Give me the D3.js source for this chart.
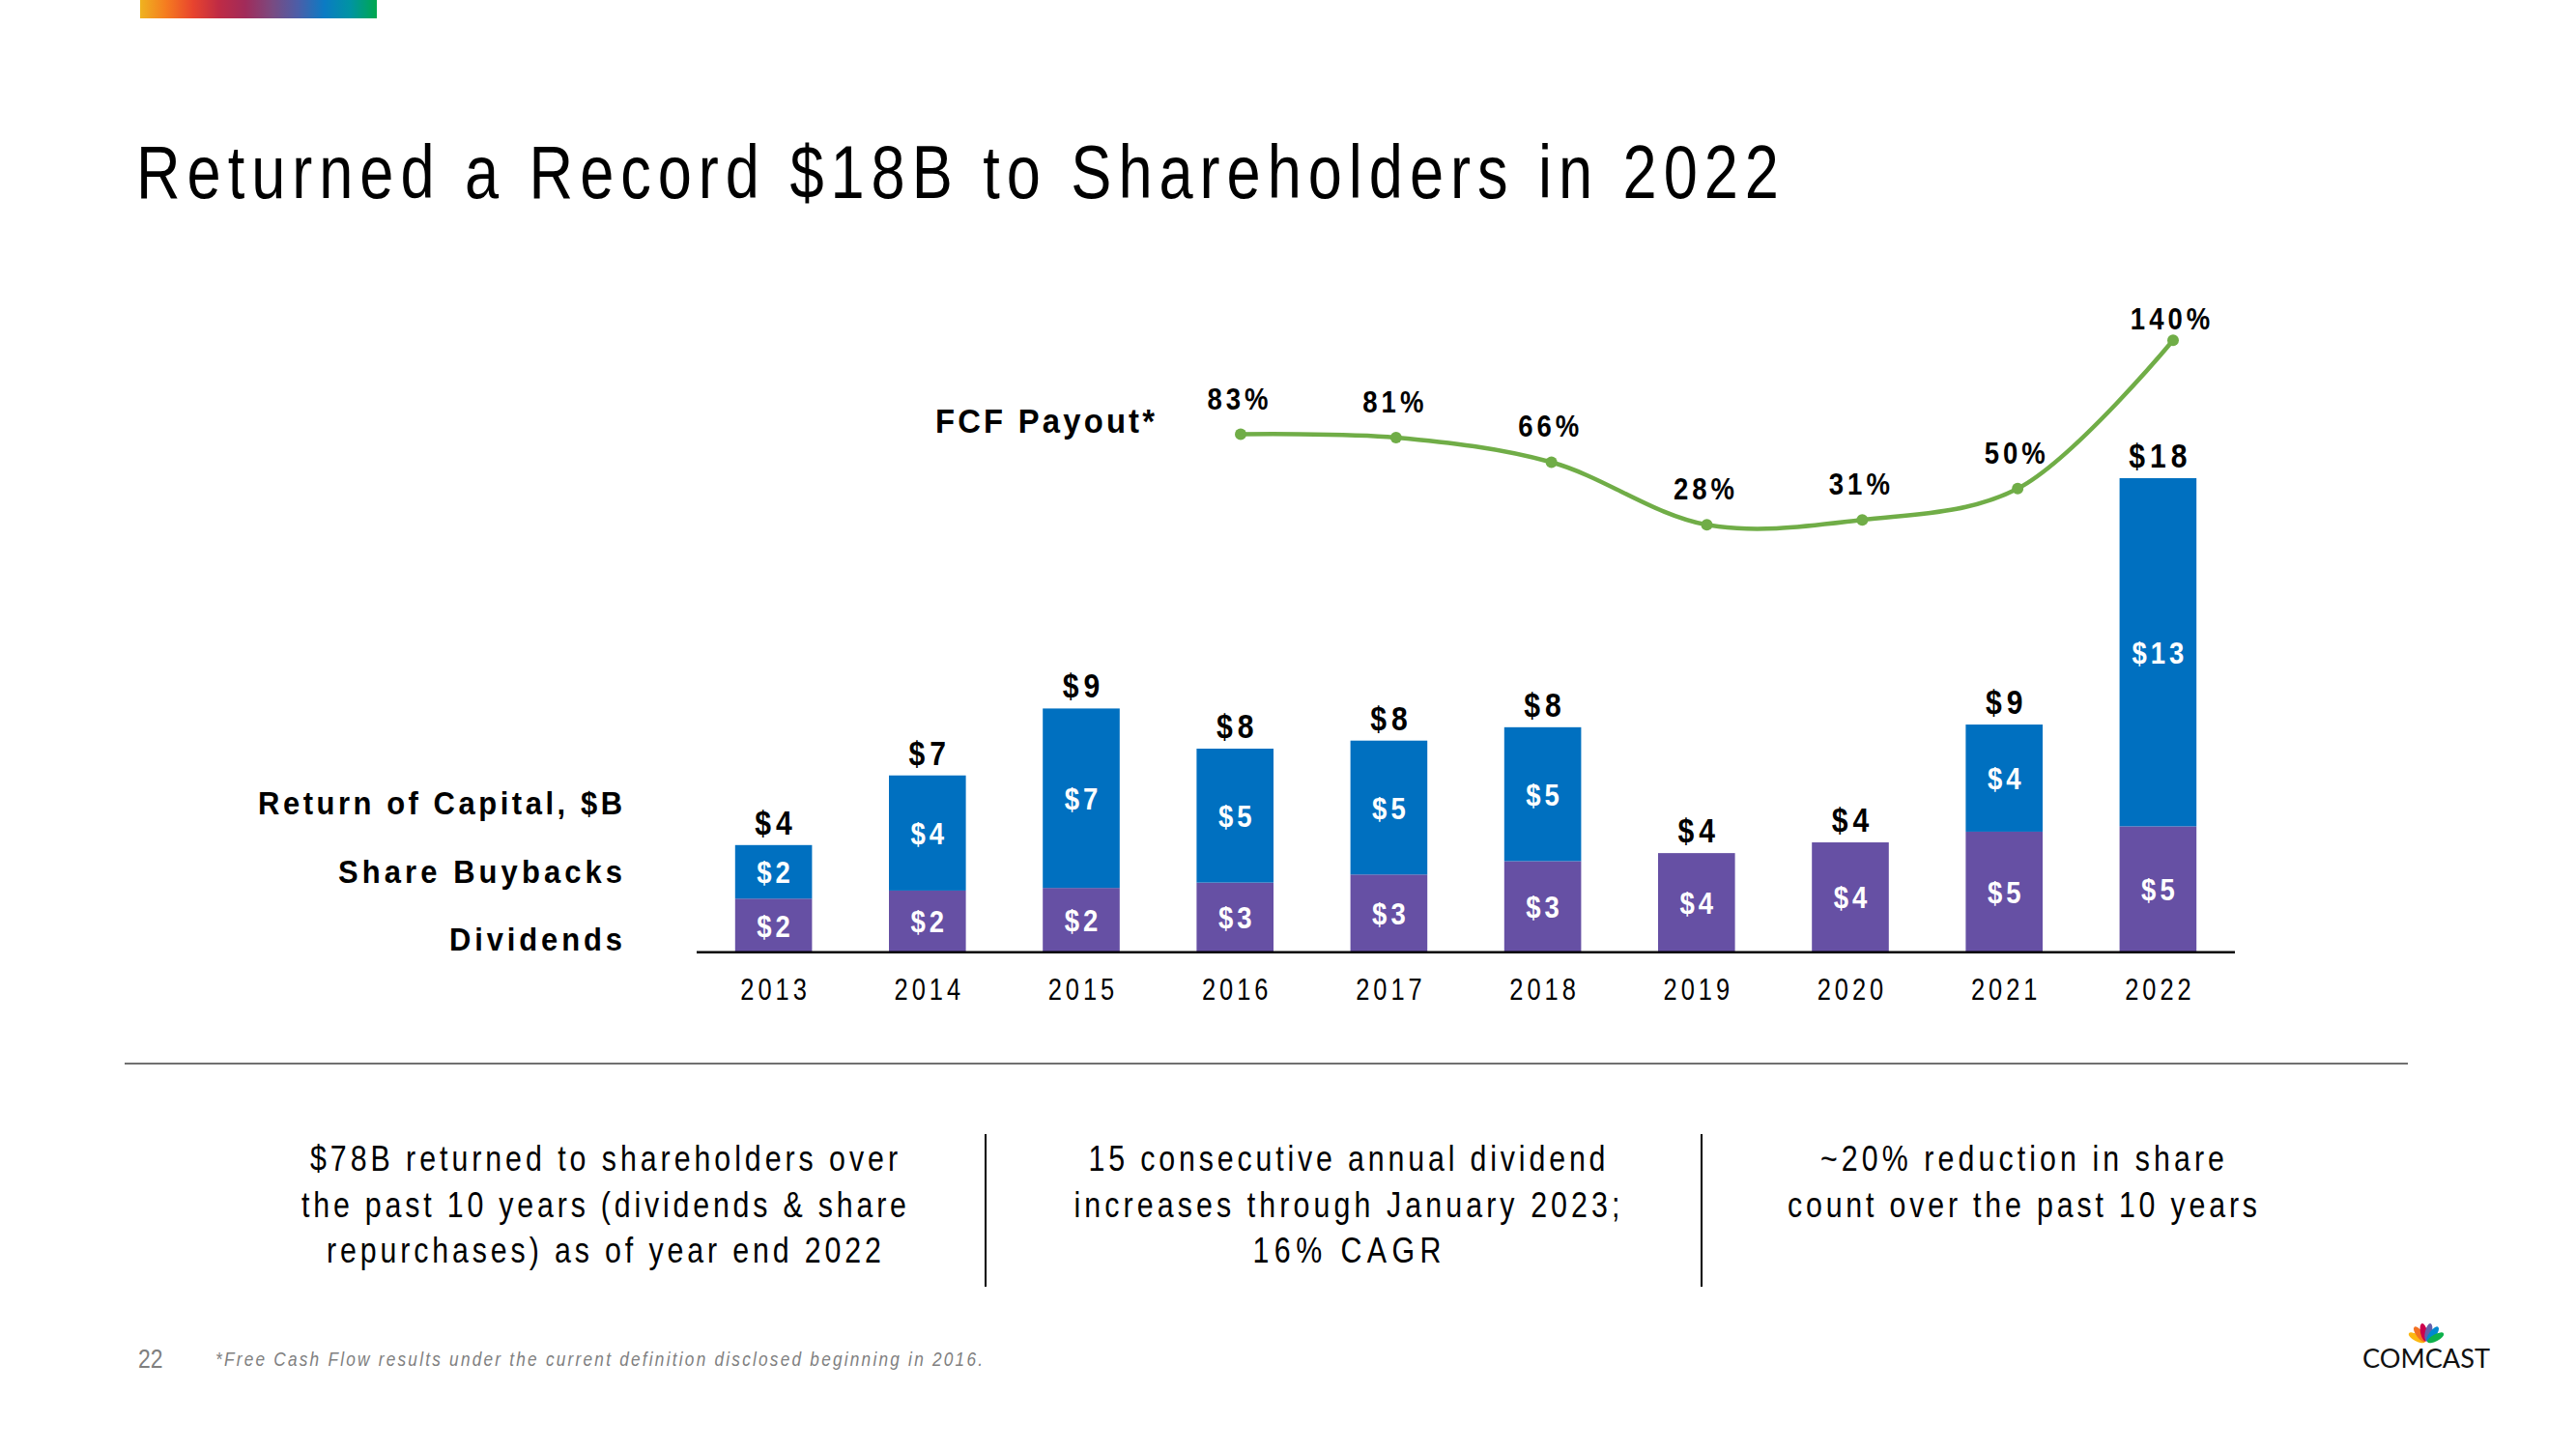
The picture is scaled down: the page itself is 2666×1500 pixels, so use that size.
<!DOCTYPE html>
<html>
<head>
<meta charset="utf-8">
<script src="https://cdn.jsdelivr.net/npm/d3@7"></script>
<style>
  html, body { margin: 0; padding: 0; background: #ffffff; }
  svg { display: block; }
</style>
</head>
<body>
<svg id="chart" width="2666" height="1500"></svg>
<script>
// ---------------- DATA ----------------
const years = ["2013", "2014", "2015", "2016", "2017", "2018", "2019", "2020", "2021", "2022"];
const dividends = [2.0, 2.3, 2.4, 2.6, 2.9, 3.4, 3.7, 4.1, 4.5, 4.7];
const buybacks  = [2.0, 4.3, 6.7, 5.0, 5.0, 5.0, 0, 0, 4.0, 13.0];
const dividendLabels = ["$2", "$2", "$2", "$3", "$3", "$3", "$4", "$4", "$5", "$5"];
const buybackLabels  = ["$2", "$4", "$7", "$5", "$5", "$5", "", "", "$4", "$13"];
const totalLabels    = ["$4", "$7", "$9", "$8", "$8", "$8", "$4", "$4", "$9", "$18"];

const payoutYears  = ["2016", "2017", "2018", "2019", "2020", "2021", "2022"];
const payoutValues = [83, 81, 66, 28, 31, 50, 140];
const payoutLabels = ["83%", "81%", "66%", "28%", "31%", "50%", "140%"];

const titleText = "Returned a Record $18B to Shareholders in 2022";
const legendLabels = ["Return of Capital, $B", "Share Buybacks", "Dividends"];
const payoutTitle = "FCF Payout*";
const bottomBlocks = [
  ["$78B returned to shareholders over", "the past 10 years (dividends & share", "repurchases) as of year end 2022"],
  ["15 consecutive annual dividend", "increases through January 2023;", "16% CAGR"],
  ["~20% reduction in share", "count over the past 10 years"]
];
const footnoteText = "*Free Cash Flow results under the current definition disclosed beginning in 2016.";
const pageNumber = "22";

// ---------------- SETUP ----------------
function hasFont(name) {
  const c = document.createElement("canvas").getContext("2d");
  const s = "abcdefghijklmnop0123456789";
  c.font = "40px monospace";
  const w1 = c.measureText(s).width;
  c.font = "40px '" + name + "', monospace";
  return c.measureText(s).width !== w1;
}
const narrow = hasFont("Liberation Sans Narrow");
const F = narrow ? "'Liberation Sans Narrow', sans-serif" : "'Liberation Sans', Arial, sans-serif";
const SX = narrow ? 1 : 0.82;    // condensing for regular text
const SXB = narrow ? 1 : 0.86;   // condensing for bold text
const SXL = narrow ? 1 : 0.91;   // condensing for bold row labels

const BLUE = "#0070C0", PURPLE = "#6650A4", GREEN = "#70AD47";

const svg = d3.select("#chart");

// condensed, tracked text helper (fixed width)
function fitText(parent, x, y, str, width, size, weight, fill, style, sx) {
  sx = sx || SX;
  const t = parent.append("text")
    .attr("transform", `translate(${x},${y}) scale(${sx},1)`)
    .attr("x", 0).attr("y", 0)
    .attr("font-family", F).attr("font-size", size)
    .attr("font-weight", weight || "normal")
    .attr("font-style", style || "normal")
    .attr("fill", fill || "#000")
    .text(str);
  if (width) t.attr("textLength", width / sx).attr("lengthAdjust", "spacing");
  return t;
}
// condensed, tracked, centred text for joins
function centred(sel, fx, fy, ls, size, weight, fill, sx) {
  sx = sx || SXB;
  sel.attr("transform", (d, i) => `translate(${fx(d, i) + ls / 2},${fy(d, i)}) scale(${sx},1)`)
    .attr("x", 0).attr("y", 0)
    .attr("text-anchor", "middle")
    .attr("font-family", F).attr("font-size", size)
    .attr("font-weight", weight).attr("fill", fill)
    .attr("letter-spacing", ls / sx);
  return sel;
}

// top colour strip
const grad = svg.append("defs").append("linearGradient").attr("id", "strip");
const stripColors = ["#EFB31F", "#F57B20", "#E8442E", "#BF2B45", "#A12B5A", "#7B4A80", "#4C5EA8", "#0B7BC4", "#0094A2", "#00A84E"];
stripColors.forEach((c, i) => grad.append("stop").attr("offset", i / (stripColors.length - 1)).attr("stop-color", c));
svg.append("rect").attr("x", 145).attr("y", 0).attr("width", 245).attr("height", 19).attr("fill", "url(#strip)");

// title
fitText(svg, 141, 205, titleText, 1700, 77, "normal", "#000");

// ---------------- SCALES ----------------
const x = d3.scaleBand().domain(years).range([721, 2313]).paddingInner(0.5).paddingOuter(0.25);
const y = d3.scaleLinear().domain([0, 17.7]).range([985.7, 495]);
const xl = d3.scalePoint().domain(payoutYears).range([1284, 2249]);
const yl = d3.scaleLinear().domain([28, 140]).range([543.3, 352.3]);

const rows = years.map((yr, i) => ({
  year: yr, div: dividends[i], buy: buybacks[i],
  divL: dividendLabels[i], buyL: buybackLabels[i], totL: totalLabels[i]
}));
const cx = d => x(d.year) + x.bandwidth() / 2;

const g = svg.append("g");

// dividends
g.selectAll("rect.div").data(rows).join("rect").attr("class", "div")
  .attr("x", d => x(d.year)).attr("width", x.bandwidth())
  .attr("y", d => y(d.div)).attr("height", d => y(0) - y(d.div))
  .attr("fill", PURPLE);

// buybacks
g.selectAll("rect.buy").data(rows.filter(d => d.buy > 0)).join("rect").attr("class", "buy")
  .attr("x", d => x(d.year)).attr("width", x.bandwidth())
  .attr("y", d => y(d.div + d.buy)).attr("height", d => y(d.div) - y(d.div + d.buy))
  .attr("fill", BLUE);

// inside labels
centred(g.selectAll("text.divL").data(rows).join("text").attr("class", "divL").attr("dy", "0.36em"),
  cx, d => (y(0) + y(d.div)) / 2, 4, 32, "bold", "#fff").text(d => d.divL);
centred(g.selectAll("text.buyL").data(rows.filter(d => d.buyL)).join("text").attr("class", "buyL").attr("dy", "0.36em"),
  cx, d => (y(d.div) + y(d.div + d.buy)) / 2, 4, 32, "bold", "#fff").text(d => d.buyL);

// totals
centred(g.selectAll("text.totL").data(rows).join("text").attr("class", "totL"),
  cx, d => y(d.div + d.buy) - 11, 5, 35, "bold", "#000").text(d => d.totL);

// baseline
svg.append("line").attr("x1", 721).attr("x2", 2313).attr("y1", y(0)).attr("y2", y(0))
  .attr("stroke", "#000").attr("stroke-width", 2.5);

// year axis
const xAxis = d3.axisBottom(x).tickSize(0).tickPadding(0);
const ax = svg.append("g").attr("transform", "translate(0,1035)").call(xAxis);
ax.select(".domain").remove();
ax.selectAll(".tick text")
  .attr("dy", 0).attr("y", 0)
  .attr("transform", `translate(2,0) scale(${SX},1)`)
  .attr("font-family", F).attr("font-size", 31).attr("letter-spacing", 4 / SX).attr("fill", "#000");

// FCF payout line
const pts = payoutYears.map((yr, i) => ({ year: yr, v: payoutValues[i], label: payoutLabels[i] }));
svg.append("path")
  .datum(pts)
  .attr("d", d3.line().x(d => xl(d.year)).y(d => yl(d.v)).curve(d3.curveCatmullRom.alpha(0.5)))
  .attr("fill", "none").attr("stroke", GREEN).attr("stroke-width", 4.5);
svg.selectAll("circle.pt").data(pts).join("circle").attr("class", "pt")
  .attr("cx", d => xl(d.year)).attr("cy", d => yl(d.v)).attr("r", 6).attr("fill", GREEN);
centred(svg.selectAll("text.pl").data(pts).join("text").attr("class", "pl"),
  d => xl(d.year) - 3, (d, i) => yl(d.v) - (i === pts.length - 1 ? 11 : 26), 4, 32, "bold", "#000")
  .text(d => d.label);

fitText(svg, 968, 448, payoutTitle, 227, 36, "bold", "#000", null, SXL);

// legend labels (row labels)
const legendY = [843, 914, 984];
const legendW = [377, 294, 179];
legendLabels.forEach((t, i) => fitText(svg, 644 - legendW[i], legendY[i], t, legendW[i], 34, "bold", "#000", null, SXL));

// separator
svg.append("line").attr("x1", 129).attr("x2", 2492).attr("y1", 1101).attr("y2", 1101)
  .attr("stroke", "#404040").attr("stroke-width", 1.5);
[1020, 1761].forEach(xx => svg.append("line").attr("x1", xx).attr("x2", xx).attr("y1", 1174).attr("y2", 1332)
  .attr("stroke", "#000").attr("stroke-width", 2));

// bottom text blocks
const blockCx = [625, 1394, 2093];
const blockW = [[608, 626, 574], [535, 565, 195], [418, 486]];
bottomBlocks.forEach((lines, b) => {
  lines.forEach((t, j) => fitText(svg, blockCx[b] - blockW[b][j] / 2, 1212 + j * 47.5, t, blockW[b][j], 37, "normal", "#000"));
});

// footer
fitText(svg, 143, 1416, pageNumber, null, 28, "normal", "#7f7f7f");
fitText(svg, 223, 1414, footnoteText, 794, 21, "normal", "#808080", "italic");

// Comcast logo
const feathers = ["#FCB711", "#F37021", "#CC004C", "#6460AA", "#0089D0", "#0DB14B"];
const logo = svg.append("g").attr("transform", "translate(2511,1390)");
feathers.forEach((c, i) => {
  const ang = -62 + i * 24.8;
  logo.append("ellipse").attr("cx", 0).attr("cy", -11).attr("rx", 3.6).attr("ry", 9.5)
    .attr("fill", c).attr("transform", `rotate(${ang})`);
});
svg.append("text").attr("x", 2445).attr("y", 1416)
  .attr("font-family", "Lato, 'Liberation Sans', sans-serif").attr("font-size", 27).attr("fill", "#111")
  .attr("textLength", 132).attr("lengthAdjust", "spacingAndGlyphs")
  .text("COMCAST");
</script>
</body>
</html>
